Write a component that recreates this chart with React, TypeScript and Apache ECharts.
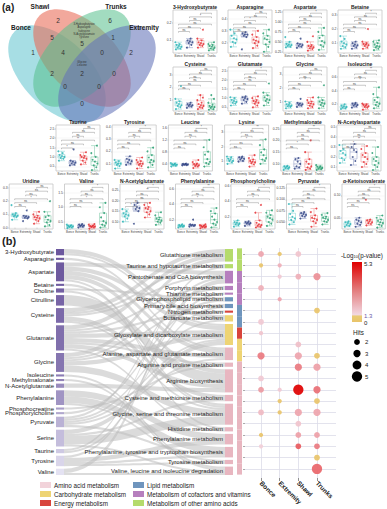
import { useEffect, useRef } from 'react';
import * as echarts from 'echarts';

const FONT = 'Liberation Sans';
const GROUPS = ['Bonce', 'Extremity', 'Shawl', 'Trunks'];

// ---------- (a) metabolite panels: values per group [Bonce, Extremity, Shawl, Trunks] ----------
const hydroxybutyrate = [
  [0.05, 0.055, 0.06, 0.065, 0.07, 0.075, 0.08, 0.09],
  [0.06, 0.075, 0.085, 0.09, 0.095, 0.1, 0.11],
  [0.06, 0.07, 0.075, 0.08, 0.085, 0.09, 0.1, 0.11, 0.16],
  [0.045, 0.05, 0.055, 0.06, 0.065, 0.07, 0.075, 0.08, 0.09],
];
const asparagine = [
  [0.17, 0.2, 0.21, 0.23, 0.24, 0.26, 0.28, 0.31],
  [0.15, 0.25, 0.26, 0.27, 0.27, 0.28, 0.29],
  [0.16, 0.18, 0.2, 0.21, 0.22, 0.23, 0.25, 0.27, 0.3],
  [0.13, 0.17, 0.19, 0.21, 0.23, 0.24, 0.26, 0.28, 0.31],
];
const aspartate = [
  [0.36, 0.38, 0.4, 0.42, 0.43, 0.45, 0.5, 0.62],
  [0.35, 0.38, 0.4, 0.42, 0.44, 0.46, 0.58],
  [0.28, 0.32, 0.34, 0.36, 0.38, 0.4, 0.42, 0.5, 0.64],
  [0.3, 0.38, 0.42, 0.48, 0.52, 0.6, 0.66, 0.75, 0.85],
];
const betaine = [
  [0.06, 0.07, 0.08, 0.09, 0.1, 0.11, 0.13, 0.15],
  [0.06, 0.07, 0.08, 0.085, 0.09, 0.1, 0.11],
  [0.06, 0.07, 0.08, 0.085, 0.09, 0.095, 0.1, 0.11, 0.2],
  [0.05, 0.06, 0.07, 0.075, 0.08, 0.09, 0.1, 0.11, 0.12],
];
const cysteine = [
  [0.3, 0.45, 0.55, 0.6, 0.7, 0.8, 0.9, 1.1, 2.1],
  [0.4, 0.5, 0.55, 0.6, 0.65, 0.7, 0.8],
  [0.3, 0.4, 0.45, 0.55, 0.6, 0.7, 0.8, 1.0, 1.2, 1.4],
  [0.25, 0.3, 0.4, 0.45, 0.5, 0.55, 0.65, 0.8, 1.1, 1.4],
];
const glutamate = [
  [0.6, 0.7, 0.75, 0.8, 0.85, 0.9, 1.0, 1.05],
  [0.7, 0.8, 0.9, 0.95, 1.0, 1.05, 1.1],
  [0.5, 0.6, 0.7, 0.75, 0.8, 0.85, 0.9, 1.0, 1.1],
  [0.6, 0.75, 0.85, 0.9, 0.95, 1.05, 1.15, 1.3, 1.8],
];
const glycine = [
  [0.5, 0.6, 0.65, 0.7, 0.75, 0.8, 0.9, 1.0],
  [0.6, 0.7, 0.75, 0.8, 0.85, 0.9, 1.2],
  [0.5, 0.6, 0.7, 0.8, 0.85, 0.9, 1.0, 1.1, 1.3],
  [0.5, 0.65, 0.75, 0.85, 0.9, 1.0, 1.1, 1.3, 2.2],
];
const isoleucine = [
  [0.13, 0.14, 0.15, 0.16, 0.17, 0.18, 0.2],
  [0.15, 0.17, 0.18, 0.19, 0.2, 0.21, 0.22],
  [0.12, 0.15, 0.16, 0.17, 0.18, 0.19, 0.2, 0.21],
  [0.14, 0.17, 0.19, 0.21, 0.23, 0.26, 0.3, 0.35, 0.45],
];
const taurine = [
  [0.8, 0.9, 0.95, 1.0, 1.05, 1.1, 1.2, 1.3],
  [0.55, 0.6, 0.65, 0.7, 0.75, 0.8, 1.4],
  [0.6, 0.7, 0.8, 0.9, 0.95, 1.0, 1.05, 1.1, 1.25],
  [0.3, 0.45, 0.55, 0.65, 0.75, 0.85, 1.0, 1.2, 1.6],
];
const tyrosine = [
  [0.06, 0.08, 0.09, 0.1, 0.1, 0.11, 0.12, 0.13],
  [0.09, 0.1, 0.11, 0.12, 0.13, 0.14, 0.16],
  [0.06, 0.08, 0.09, 0.1, 0.1, 0.11, 0.12, 0.13, 0.15],
  [0.07, 0.09, 0.11, 0.12, 0.13, 0.15, 0.17, 0.2, 0.23],
];
const leucine = [
  [0.3, 0.33, 0.35, 0.36, 0.37, 0.38, 0.4, 0.42],
  [0.34, 0.35, 0.36, 0.37, 0.38, 0.39, 0.4],
  [0.25, 0.3, 0.32, 0.34, 0.36, 0.38, 0.4, 0.45, 0.52],
  [0.3, 0.38, 0.42, 0.46, 0.55, 0.7, 0.8, 0.95, 1.2],
];
const lysine = [
  [0.8, 0.9, 1.0, 1.0, 1.1, 1.15, 1.25, 1.3],
  [0.95, 1.0, 1.1, 1.15, 1.2, 1.25, 1.3],
  [0.6, 0.75, 0.85, 0.9, 0.95, 1.0, 1.1, 1.2, 1.4],
  [0.8, 1.0, 1.1, 1.2, 1.4, 1.6, 1.8, 2.1, 2.5],
];
const methylmalonate = [
  [0.075, 0.08, 0.082, 0.085, 0.088, 0.09, 0.092],
  [0.08, 0.085, 0.09, 0.1, 0.11, 0.12, 0.125],
  [0.075, 0.08, 0.085, 0.09, 0.1, 0.11, 0.12, 0.15, 0.2],
  [0.075, 0.078, 0.08, 0.083, 0.085, 0.088, 0.09, 0.095],
];
const acetylaspartate = [
  [0.14, 0.17, 0.19, 0.22, 0.24, 0.26, 0.28, 0.32],
  [0.12, 0.16, 0.2, 0.25, 0.27, 0.3, 0.33],
  [0.1, 0.13, 0.15, 0.18, 0.2, 0.22, 0.24, 0.28, 0.31],
  [0.07, 0.1, 0.12, 0.14, 0.16, 0.18, 0.2, 0.24, 0.3],
];
const uridine = [
  [0.06, 0.08, 0.085, 0.09, 0.095, 0.1, 0.11, 0.17],
  [0.05, 0.07, 0.075, 0.08, 0.085, 0.09, 0.13],
  [0.03, 0.05, 0.06, 0.07, 0.075, 0.08, 0.09, 0.1, 0.12],
  [0.01, 0.02, 0.04, 0.05, 0.06, 0.08, 0.09, 0.12, 0.2],
];
const valine = [
  [0.28, 0.3, 0.32, 0.34, 0.35, 0.36, 0.38, 0.4],
  [0.3, 0.33, 0.35, 0.37, 0.38, 0.4, 0.42],
  [0.26, 0.3, 0.32, 0.33, 0.34, 0.35, 0.37, 0.4, 0.42],
  [0.3, 0.36, 0.4, 0.46, 0.52, 0.65, 0.8, 1.0, 1.15],
];
const acetylglutamate = [
  [0.1, 0.115, 0.125, 0.13, 0.135, 0.14, 0.15, 0.16],
  [0.09, 0.15, 0.16, 0.165, 0.17, 0.18, 0.19],
  [0.12, 0.135, 0.145, 0.15, 0.16, 0.165, 0.17, 0.18, 0.19],
  [0.085, 0.095, 0.1, 0.105, 0.11, 0.115, 0.12, 0.13, 0.145],
];
const phenylalanine = [
  [0.1, 0.11, 0.115, 0.12, 0.125, 0.13, 0.14],
  [0.11, 0.12, 0.125, 0.13, 0.135, 0.14, 0.2],
  [0.09, 0.1, 0.105, 0.11, 0.115, 0.12, 0.125, 0.13, 0.14],
  [0.1, 0.13, 0.15, 0.17, 0.2, 0.24, 0.28, 0.31, 0.35],
];
const phosphorylcholine = [
  [0.07, 0.09, 0.1, 0.11, 0.12, 0.13, 0.15],
  [0.08, 0.1, 0.11, 0.115, 0.12, 0.13, 0.14],
  [0.06, 0.07, 0.08, 0.09, 0.1, 0.12, 0.15, 0.25, 0.35],
  [0.08, 0.11, 0.13, 0.16, 0.18, 0.2, 0.22, 0.25, 0.28],
];
const pyruvate = [
  [0.045, 0.05, 0.055, 0.058, 0.062, 0.068, 0.075, 0.09],
  [0.058, 0.062, 0.064, 0.066, 0.068, 0.07, 0.072],
  [0.04, 0.048, 0.052, 0.055, 0.058, 0.06, 0.065, 0.072, 0.08],
  [0.045, 0.05, 0.052, 0.055, 0.058, 0.06, 0.062, 0.066, 0.07],
];
const ketoisovalerate = [
  [0.03, 0.032, 0.034, 0.036, 0.038, 0.04, 0.042],
  [0.03, 0.034, 0.037, 0.04, 0.043, 0.046, 0.05],
  [0.033, 0.036, 0.038, 0.04, 0.042, 0.044, 0.046, 0.09],
  [0.028, 0.032, 0.035, 0.038, 0.04, 0.043, 0.046, 0.05, 0.055],
];

const panelNames = [
  '3-Hydroxybutyrate', 'Asparagine', 'Aspartate', 'Betaine',
  'Cysteine', 'Glutamate', 'Glycine', 'Isoleucine',
  'Taurine', 'Tyrosine', 'Leucine', 'Lysine', 'Methylmalonate', 'N-Acetylaspartate',
  'Uridine', 'Valine', 'N-Acetylglutamate', 'Phenylalanine', 'Phosphorylcholine', 'Pyruvate', 'α-Ketoisovalerate',
];
const panelPoints = [
  hydroxybutyrate, asparagine, aspartate, betaine,
  cysteine, glutamate, glycine, isoleucine,
  taurine, tyrosine, leucine, lysine, methylmalonate, acetylaspartate,
  uridine, valine, acetylglutamate, phenylalanine, phosphorylcholine, pyruvate, ketoisovalerate,
];
// y axis [min, max, tick step]
const panelAxis = [
  [0.03, 0.27, 0.1], [0.12, 0.47, 0.1], [0.22, 1.3, 0.25], [0.03, 0.335, 0.1],
  [0.15, 3.6, 1], [0.3, 2.7, 0.5], [0.3, 3.55, 1], [0.1, 0.75, 0.2],
  [0.25, 2.7, 0.5], [0.04, 0.415, 0.1], [0.15, 1.7, 0.4], [0.3, 3.5, 1], [0.07, 0.265, 0.05], [0.06, 0.52, 0.1],
  [-0.01, 0.33, 0.1], [0.25, 1.8, 0.5], [0.065, 0.28, 0.05], [0.08, 0.66, 0.2], [0.04, 0.62, 0.2], [0.035, 0.134, 0.025], [0.025, 0.125, 0.05],
];
// comparisons: B-E, B-S, B-T, E-S, E-T, S-T
const PAIRS = [[0, 1], [0, 2], [0, 3], [1, 2], [1, 3], [2, 3]];
const panelSig = [
  ['ns', 'ns', 'ns', 'ns', '*', '*'], ['ns', 'ns', 'ns', '*', 'ns', 'ns'], ['ns', 'ns', 'ns', 'ns', 'ns', '*'], ['ns', 'ns', 'ns', 'ns', 'ns', '*'],
  ['ns', 'ns', 'ns', 'ns', 'ns', 'ns'], ['ns', 'ns', 'ns', 'ns', 'ns', '*'], ['ns', 'ns', '*', 'ns', 'ns', 'ns'], ['ns', 'ns', '*', 'ns', 'ns', '**'],
  ['*', 'ns', '**', 'ns', 'ns', 'ns'], ['ns', 'ns', '*', 'ns', 'ns', '*'], ['ns', 'ns', '*', 'ns', 'ns', '*'], ['ns', 'ns', '*', 'ns', 'ns', '**'], ['ns', '*', 'ns', 'ns', 'ns', '**'], ['ns', '*', '**', 'ns', 'ns', 'ns'],
  ['ns', 'ns', '*', 'ns', 'ns', 'ns'], ['ns', 'ns', '*', 'ns', 'ns', '*'], ['*', 'ns', 'ns', 'ns', '**', '*'], ['ns', 'ns', '*', 'ns', 'ns', '**'], ['ns', 'ns', '*', 'ns', 'ns', '*'], ['ns', 'ns', 'ns', 'ns', 'ns', '*'], ['ns', 'ns', 'ns', 'ns', 'ns', '*'],
];

// ---------- Venn ----------
const vennSets = ['Bonce', 'Shawl', 'Trunks', 'Extremity'];
const vennCounts = [
  { region: 'Shawl', n: 2 }, { region: 'Trunks', n: 6 }, { region: 'Bonce', n: 1 }, { region: 'Extremity', n: 2 },
  { region: 'Bonce∩Shawl', n: 5 }, { region: 'Trunks∩Extremity', n: 1 }, { region: 'Shawl∩Trunks', n: 5 },
  { region: 'Bonce∩Shawl∩Trunks', n: 4 }, { region: 'Shawl∩Trunks∩Extremity', n: 0 }, { region: 'Bonce∩Trunks', n: 2 },
  { region: 'All', n: 2 }, { region: 'Shawl∩Extremity', n: 0 }, { region: 'Bonce∩Trunks∩Extremity', n: 0 },
  { region: 'Bonce∩Shawl∩Extremity', n: 0 }, { region: 'Bonce∩Extremity', n: 0 },
];
const vennShawlTrunks = ['3-Hydroxybutyrate', 'Asparagine', 'Isoleucine', 'N-Acetylglutamate', 'Tyrosine'];
const vennAll = ['Glycine', 'Leucine'];

// ---------- (b) Sankey ----------
const metabolites = [
  '3-Hydroxybutyrate', 'Asparagine', 'Aspartate', 'Betaine', 'Choline', 'Citrulline', 'Cysteine', 'Glutamate', 'Glycine',
  'Isoleucine', 'Methylmalonate', 'N-Acetylglutamate', 'Phenylalanine', 'Phosphocreatine', 'Phosphorylcholine',
  'Pyruvate', 'Serine', 'Taurine', 'Tyrosine', 'Valine',
];
const pathways = [
  'Glutathione metabolism', 'Taurine and hypotaurine metabolism', 'Pantothenate and CoA biosynthesis', 'Porphyrin metabolism',
  'Thiamine metabolism', 'Glycerophospholipid metabolism', 'Primary bile acid biosynthesis', 'Nitrogen metabolism',
  'Butanoate metabolism', 'Glyoxylate and dicarboxylate metabolism', 'Alanine, aspartate and glutamate metabolism',
  'Arginine and proline metabolism', 'Arginine biosynthesis', 'Cysteine and methionine metabolism',
  'Glycine, serine and threonine metabolism', 'Histidine metabolism', 'Phenylalanine metabolism',
  'Phenylalanine, tyrosine and tryptophan biosynthesis', 'Tyrosine metabolism', 'Valine, leucine and isoleucine degradation',
];
const classNames = [
  'Amino acid metabolism', 'Carbohydrate metabolism', 'Energy metabolism',
  'Lipid metabolism', 'Metabolism of cofactors and vitamins', 'Metabolism of other amino acids',
];
const pathwayClass = [5, 5, 4, 4, 4, 3, 3, 2, 1, 1, 0, 0, 0, 0, 0, 0, 0, 0, 0, 0];
const sankeyLinks: [string, string, number][] = [
  ['Glutamate', 'Glutathione metabolism', 2], ['Cysteine', 'Glutathione metabolism', 2], ['Glycine', 'Glutathione metabolism', 2],
  ['Taurine', 'Taurine and hypotaurine metabolism', 1], ['Cysteine', 'Taurine and hypotaurine metabolism', 1],
  ['Valine', 'Pantothenate and CoA biosynthesis', 2], ['Cysteine', 'Pantothenate and CoA biosynthesis', 1],
  ['Aspartate', 'Pantothenate and CoA biosynthesis', 2], ['Pyruvate', 'Pantothenate and CoA biosynthesis', 1],
  ['Glutamate', 'Porphyrin metabolism', 1], ['Glycine', 'Porphyrin metabolism', 1],
  ['Tyrosine', 'Thiamine metabolism', 1],
  ['Choline', 'Glycerophospholipid metabolism', 1], ['Phosphorylcholine', 'Glycerophospholipid metabolism', 1],
  ['Taurine', 'Primary bile acid biosynthesis', 1], ['Glycine', 'Primary bile acid biosynthesis', 1],
  ['Glutamate', 'Nitrogen metabolism', 1],
  ['3-Hydroxybutyrate', 'Butanoate metabolism', 2], ['Pyruvate', 'Butanoate metabolism', 1],
  ['Glutamate', 'Glyoxylate and dicarboxylate metabolism', 2], ['Glycine', 'Glyoxylate and dicarboxylate metabolism', 2],
  ['Serine', 'Glyoxylate and dicarboxylate metabolism', 2], ['Pyruvate', 'Glyoxylate and dicarboxylate metabolism', 1],
  ['Aspartate', 'Glyoxylate and dicarboxylate metabolism', 2], ['3-Hydroxybutyrate', 'Glyoxylate and dicarboxylate metabolism', 1],
  ['Aspartate', 'Alanine, aspartate and glutamate metabolism', 2], ['Asparagine', 'Alanine, aspartate and glutamate metabolism', 1],
  ['Glutamate', 'Alanine, aspartate and glutamate metabolism', 2], ['Pyruvate', 'Alanine, aspartate and glutamate metabolism', 1],
  ['Glutamate', 'Arginine and proline metabolism', 1], ['Phosphocreatine', 'Arginine and proline metabolism', 1],
  ['Citrulline', 'Arginine biosynthesis', 5], ['Aspartate', 'Arginine biosynthesis', 2],
  ['Glutamate', 'Arginine biosynthesis', 2], ['N-Acetylglutamate', 'Arginine biosynthesis', 2],
  ['Cysteine', 'Cysteine and methionine metabolism', 2], ['Serine', 'Cysteine and methionine metabolism', 1],
  ['Glycine', 'Glycine, serine and threonine metabolism', 3], ['Serine', 'Glycine, serine and threonine metabolism', 4],
  ['Betaine', 'Glycine, serine and threonine metabolism', 1], ['Choline', 'Glycine, serine and threonine metabolism', 1],
  ['Cysteine', 'Glycine, serine and threonine metabolism', 1],
  ['Aspartate', 'Histidine metabolism', 1], ['Glutamate', 'Histidine metabolism', 1],
  ['Phenylalanine', 'Phenylalanine metabolism', 3], ['Tyrosine', 'Phenylalanine metabolism', 2],
  ['Phenylalanine', 'Phenylalanine, tyrosine and tryptophan biosynthesis', 3], ['Tyrosine', 'Phenylalanine, tyrosine and tryptophan biosynthesis', 1],
  ['Pyruvate', 'Phenylalanine, tyrosine and tryptophan biosynthesis', 1],
  ['Tyrosine', 'Tyrosine metabolism', 1], ['Phenylalanine', 'Tyrosine metabolism', 1],
  ['Valine', 'Valine, leucine and isoleucine degradation', 1], ['Isoleucine', 'Valine, leucine and isoleucine degradation', 1],
  ['Methylmalonate', 'Valine, leucine and isoleucine degradation', 1], ['Serine', 'Valine, leucine and isoleucine degradation', 1],
];

// ---------- (b) bubble plot: -log10(p) and hits, rows = pathways, cols = Bonce, Extremity, Shawl, Trunks ----------
const bubbleLogP: (number | null)[][] = [
  [2.2, 0.5, 1.6, null], [0.6, 2.0, null, null], [null, 1.5, 2.0, 2.6], [2.0, null, null, null],
  [null, 2.2, null, null], [null, null, null, 0.8], [1.5, null, null, null], [1.6, null, null, null],
  [null, null, 1.7, null], [3.0, null, 2.2, 0.8], [null, null, 3.0, 2.3], [1.5, null, null, null],
  [2.4, 1.5, 5.3, 3.2], [null, 0.6, null, 0.8], [1.8, 0.6, 2.2, 2.2], [null, null, 1.6, null],
  [0.6, null, 2.3, 2.3], [1.4, null, 3.6, 3.0], [null, null, null, 0.8], [null, null, null, 3.4],
];
const bubbleHits: (number | null)[][] = [
  [2, 1, 2, null], [1, 1, null, null], [null, 1, 2, 3], [2, null, null, null],
  [null, 1, null, null], [null, null, null, 2], [2, null, null, null], [1, null, null, null],
  [null, null, 2, null], [3, null, 3, 2], [null, null, 3, 3], [2, null, null, null],
  [2, 1, 5, 3], [null, 1, null, 2], [2, 1, 3, 3], [null, null, 2, null],
  [1, null, 2, 2], [1, null, 2, 2], [null, null, null, 2], [null, null, null, 5],
];
const hitsLegend = [2, 3, 4, 5];
const logPTicks = ['5.3', '1.3', '0'];
const LOGP_MAX = 5.3;
const LOGP_SIG = 1.3;

// ---------- styles ----------
const PT_COLORS = ['#23b2b4', '#2b3f7f', '#e3262b', '#1f9a6c'];
const BOX_COLORS = ['#8fd6d6', '#97a1c9', '#f19a9a', '#8ccfb0'];
const CLASS_COLORS = ['#e8b6c0', '#eed474', '#d8443c', '#6f95bd', '#b67fbe', '#b5db6c'];
const JITTER = [-2.6, 1.8, -0.8, 2.9, 0.4, -1.9, 1.1, -3.2, 2.4, -0.2];
const ROWS = [
  { start: 0, count: 4, left: 173, step: 55, top: 10, h: 43 },
  { start: 4, count: 4, left: 173, step: 55, top: 67, h: 44 },
  { start: 8, count: 6, left: 56, step: 56.2, top: 125, h: 46 },
  { start: 14, count: 7, left: 9, step: 55.5, top: 184, h: 45 },
];
const X_MIN = 0.14;

function quantile(s: number[], p: number) {
  const pos = (s.length - 1) * p;
  const lo = Math.floor(pos);
  const hi = Math.ceil(pos);
  return s[lo] + (s[hi] - s[lo]) * (pos - lo);
}
function boxStats(arr: number[]) {
  const s = [...arr].sort((a, b) => a - b);
  const q1 = quantile(s, 0.25), m = quantile(s, 0.5), q3 = quantile(s, 0.75);
  const iqr = q3 - q1;
  const lo = s.find((v) => v >= q1 - 1.5 * iqr) as number;
  const hi = [...s].reverse().find((v) => v <= q3 + 1.5 * iqr) as number;
  return [lo, q1, m, q3, hi];
}
function decimals(step: number) {
  const s = String(step);
  return s.includes('.') ? s.split('.')[1].length : 0;
}
function mix(a: number[], b: number[], t: number) {
  const c = a.map((v, i) => Math.round(v + (b[i] - v) * t));
  return `rgb(${c[0]},${c[1]},${c[2]})`;
}
function bubbleColor(v: number) {
  if (v < LOGP_SIG) return '#e9c46a';
  const t = Math.min(1, (v - LOGP_SIG) / (LOGP_MAX - LOGP_SIG));
  return mix([242, 212, 222], [224, 0, 0], t);
}
function bubbleSize(h: number) {
  return 2.8 + 1.5 * h;
}
function leftNodeColor(i: number) {
  const t = Math.pow(i / (metabolites.length - 1), 1.8);
  return mix([108, 88, 158], [228, 226, 242], t);
}

function txt(x: number, y: number, text: string, o: any = {}) {
  return {
    type: 'text', x, y, silent: true, z: 20, rotation: o.rotation || 0,
    style: {
      text, fontSize: o.size || 6, fontWeight: o.bold ? 'bold' : 'normal', fontFamily: FONT,
      fill: o.color || '#222', align: o.align || 'left', textAlign: o.align || 'left',
      verticalAlign: o.va || 'middle', textVerticalAlign: o.va || 'middle', lineHeight: o.lh,
      rich: o.rich,
    },
  };
}

function buildOption() {
  const grid: any[] = [];
  const xAxis: any[] = [];
  const yAxis: any[] = [];
  const series: any[] = [];
  const graphic: any[] = [];

  // ---- (a) panels ----
  panelNames.forEach((name, i) => {
    const r = ROWS.find((rr) => i >= rr.start && i < rr.start + rr.count)!;
    const left = r.left + (i - r.start) * r.step;
    const w = 44;
    const [yMin, yMax, step] = panelAxis[i];
    const dec = decimals(step);
    grid.push({ left, top: r.top, width: w, height: r.h, show: true, borderColor: '#a0a0a0', borderWidth: 0.5, backgroundColor: '#fff' });
    xAxis.push({
      type: 'category', gridIndex: i, data: GROUPS,
      axisLine: { show: false },
      axisTick: { show: true, length: 1, alignWithLabel: true, lineStyle: { color: '#888', width: 0.4 } },
      axisLabel: { fontSize: 2.8, color: '#444', margin: 1.5, interval: 0, fontFamily: FONT },
      splitLine: { show: false },
    });
    yAxis.push({
      type: 'value', gridIndex: i, min: yMin, max: yMax, minInterval: step, maxInterval: step,
      axisLine: { show: false },
      axisTick: { show: true, length: 1, lineStyle: { color: '#888', width: 0.4 } },
      axisLabel: {
        fontSize: 3.4, color: '#444', margin: 1.5, fontFamily: FONT, showMinLabel: false, showMaxLabel: false,
        formatter: (v: number) => v.toFixed(dec),
      },
      splitLine: { show: true, lineStyle: { color: '#ececec', width: 0.4 } },
    });
    const pts = panelPoints[i];
    series.push({
      type: 'boxplot', xAxisIndex: i, yAxisIndex: i, boxWidth: [7, 7], silent: true,
      itemStyle: { borderWidth: 0.6, color: 'rgba(255,255,255,0)' },
      data: pts.map((arr, g) => ({ value: boxStats(arr), itemStyle: { borderColor: BOX_COLORS[g], color: 'rgba(255,255,255,0)' } })),
    });
    series.push({
      type: 'scatter', xAxisIndex: i, yAxisIndex: i, symbolSize: 1.9, silent: true, z: 3,
      data: pts.flatMap((arr, g) => arr.map((v, k) => ({
        value: [g, v], symbolOffset: [JITTER[k % JITTER.length], 0], itemStyle: { color: PT_COLORS[g] },
      }))),
    });
    const span = yMax - yMin;
    const sig = panelSig[i];
    series.push({
      type: 'custom', xAxisIndex: i, yAxisIndex: i, silent: true, z: 4,
      encode: { x: [0, 1], y: 2 },
      data: PAIRS.map(([a, b], k) => [a, b, yMin + span * (0.5 + 0.085 * k)]),
      renderItem: (params: any, api: any) => {
        const a = api.coord([api.value(0), api.value(2)]);
        const b = api.coord([api.value(1), api.value(2)]);
        return {
          type: 'group',
          children: [
            { type: 'polyline', shape: { points: [[a[0], a[1] + 1.2], [a[0], a[1]], [b[0], b[1]], [b[0], b[1] + 1.2]] }, style: { stroke: '#777', lineWidth: 0.4, fill: null } },
            { type: 'text', x: (a[0] + b[0]) / 2, y: a[1] - 0.2, style: { text: sig[params.dataIndex], fontSize: 2.8, fontFamily: FONT, fill: '#333', align: 'center', textAlign: 'center', verticalAlign: 'bottom', textVerticalAlign: 'bottom' } },
          ],
        };
      },
    });
    graphic.push(txt(left + w / 2, r.top - 1, name, { size: 5, bold: true, align: 'center', va: 'bottom' }));
  });

  // ---- Venn ----
  const vennGeom = [
    { cx: 57, cy: 74, rot: -Math.PI / 4, color: 'rgba(95,195,205,0.55)' },
    { cx: 82, cy: 58, rot: -Math.PI / 4, color: 'rgba(232,105,85,0.58)' },
    { cx: 82, cy: 58, rot: Math.PI / 4, color: 'rgba(85,192,140,0.55)' },
    { cx: 107, cy: 74, rot: Math.PI / 4, color: 'rgba(100,115,185,0.58)' },
  ];
  vennGeom.forEach((g) => {
    graphic.push({ type: 'ellipse', x: g.cx, y: g.cy, rotation: g.rot, silent: true, z: 1, shape: { cx: 0, cy: 0, rx: 60, ry: 34 }, style: { fill: g.color, stroke: null } });
  });
  const vennLabelPos = [[21, 27], [40, 6], [116, 6], [144, 27]];
  vennSets.forEach((s, k) => graphic.push(txt(vennLabelPos[k][0], vennLabelPos[k][1], s, { size: 6.5, bold: true, align: 'center' })));
  const countPos = [
    [58, 20], [110, 20], [33, 52], [131, 52], [52, 37], [113, 37], [82, 43], [63, 52], [102, 52],
    [52, 73], [82, 73], [114, 73], [65, 86], [99, 86], [82, 103],
  ];
  vennCounts.forEach((c, k) => graphic.push(txt(countPos[k][0], countPos[k][1], String(c.n), { size: 6.5, align: 'center', color: '#333' })));
  graphic.push(txt(84, 31, vennShawlTrunks.join('\n'), { size: 2.6, align: 'center', lh: 3.1, color: '#333' }));
  graphic.push(txt(82, 63, vennAll.join('\n'), { size: 2.8, align: 'center', lh: 3.4, color: '#333' }));

  graphic.push(txt(2, 7, '(a)', { size: 10, bold: true }));
  graphic.push(txt(2, 241, '(b)', { size: 11, bold: true }));

  // ---- Sankey ----
  series.push({
    type: 'sankey', left: 56, top: 249, width: 177, height: 226, nodeWidth: 8, nodeGap: 2.5,
    layoutIterations: 0, draggable: false, silent: true, emphasis: { disabled: true },
    label: { position: 'left', distance: 2, fontSize: 6, lineHeight: 5, color: '#222', fontFamily: FONT },
    lineStyle: { color: '#bdbdbd', opacity: 0.55, curveness: 0.5 },
    itemStyle: { borderWidth: 0 },
    data: [
      ...metabolites.map((n, i) => ({ name: n, itemStyle: { color: leftNodeColor(i) } })),
      ...pathways.map((n, i) => ({ name: n, itemStyle: { color: CLASS_COLORS[pathwayClass[i]] } })),
    ],
    links: sankeyLinks.map(([s, t, v]) => ({ source: s, target: t, value: v })),
  });

  // ---- bubble plot ----
  const bi = panelNames.length;
  grid.push({ left: 245, top: 248, width: 91, height: 230, show: false });
  xAxis.push({
    type: 'value', gridIndex: bi, min: X_MIN, max: 5.02,
    axisLine: { show: false }, splitLine: { show: false },
    axisTick: { show: true, customValues: [1, 2, 3, 4], length: 3, lineStyle: { color: '#444', width: 0.6 } },
    axisLabel: {
      customValues: [1, 2, 3, 4], formatter: (v: number) => GROUPS[Math.round(v) - 1] || '',
      rotate: -45, fontSize: 6.5, fontWeight: 'bold', color: '#222', margin: 4, fontFamily: FONT,
    },
  });
  yAxis.push({
    type: 'value', gridIndex: bi, min: 0.47, max: 20.8, inverse: true,
    axisLine: { show: false }, splitLine: { show: false },
    axisTick: { show: true, customValues: pathways.map((_, k) => k + 1), length: 2, lineStyle: { color: '#555', width: 0.5 } },
    axisLabel: { show: false },
  });
  series.push({
    type: 'custom', xAxisIndex: bi, yAxisIndex: bi, silent: true, z: 2, clip: false,
    encode: { x: 0, y: 1 },
    data: pathwayClass.map((c, k) => [X_MIN, k + 1, c]),
    renderItem: (params: any, api: any) => {
      const p = api.coord([api.value(0), api.value(1)]);
      const hh = api.size([0, 1])[1];
      return { type: 'rect', shape: { x: p[0] - 8, y: p[1] - hh / 2, width: 5, height: hh }, style: { fill: CLASS_COLORS[api.value(2)] } };
    },
    markLine: {
      silent: true, symbol: ['none', 'none'], label: { show: false },
      lineStyle: { color: '#dcdce8', width: 0.8, type: 'solid' },
      data: [
        ...[1, 2, 3, 4].map((x) => ({ xAxis: x })),
        ...pathways.map((_, k) => ({ yAxis: k + 1 })),
      ],
    },
  });
  const bubbles: any[] = [];
  bubbleLogP.forEach((row, r) => row.forEach((v, c) => {
    if (v != null) bubbles.push([c + 1, r + 1, v, bubbleHits[r][c]]);
  }));
  series.push({
    type: 'scatter', xAxisIndex: bi, yAxisIndex: bi, z: 5, silent: true,
    symbolSize: (d: number[]) => bubbleSize(d[3]),
    itemStyle: { color: (p: any) => bubbleColor(p.data[2]), opacity: 0.92 },
    data: bubbles,
  });

  // ---- legends ----
  graphic.push(txt(341, 255, '-Log{s|10}(p-value)', { size: 6.3, rich: { s: { fontSize: 4, verticalAlign: 'bottom', padding: [3, 0, 0, 0], fontFamily: FONT } } }));
  graphic.push({
    type: 'rect', x: 352, y: 262, shape: { width: 10, height: 60 }, silent: true,
    style: {
      fill: new echarts.graphic.LinearGradient(0, 0, 0, 1, [
        { offset: 0, color: '#e00000' }, { offset: 0.45, color: '#e27878' },
        { offset: 0.88, color: '#f2d8e2' }, { offset: 0.9, color: '#e9cb75' }, { offset: 1, color: '#e9c46a' },
      ]),
    },
  });
  graphic.push(txt(364, 264, logPTicks[0], { size: 6 }));
  graphic.push(txt(364, 316, logPTicks[1], { size: 6, color: '#6d5aa8' }));
  graphic.push(txt(364, 323, logPTicks[2], { size: 6 }));
  graphic.push(txt(353, 332, 'Hits', { size: 6.3 }));
  hitsLegend.forEach((h, k) => {
    const y = 342 + k * 11.5;
    graphic.push({ type: 'circle', x: 357, y, shape: { cx: 0, cy: 0, r: bubbleSize(h) / 2 }, style: { fill: '#000' }, silent: true });
    graphic.push(txt(365, y, String(h), { size: 6 }));
  });
  classNames.forEach((n, k) => {
    const col = Math.floor(k / 3);
    const row = k % 3;
    const x = col === 0 ? 40 : 133;
    const y = 485 + row * 9;
    graphic.push({ type: 'rect', x, y: y - 3, shape: { width: 11, height: 6 }, style: { fill: k === 0 ? '#f2d3da' : CLASS_COLORS[k] }, silent: true });
    graphic.push(txt(x + 14, y, n, { size: 6.3 }));
  });

  return {
    animation: false,
    backgroundColor: '#fff',
    textStyle: { fontFamily: FONT },
    grid, xAxis, yAxis, series, graphic,
  };
}

export default function App() {
  const ref = useRef<HTMLDivElement>(null);
  useEffect(() => {
    document.body.style.margin = '0';
    const chart = echarts.init(ref.current!, null, { renderer: 'svg' });
    chart.setOption(buildOption() as any);
    return () => chart.dispose();
  }, []);
  return <div ref={ref} style={{ width: 387, height: 509, position: 'absolute', left: 0, top: 0, background: '#fff' }} />;
}
